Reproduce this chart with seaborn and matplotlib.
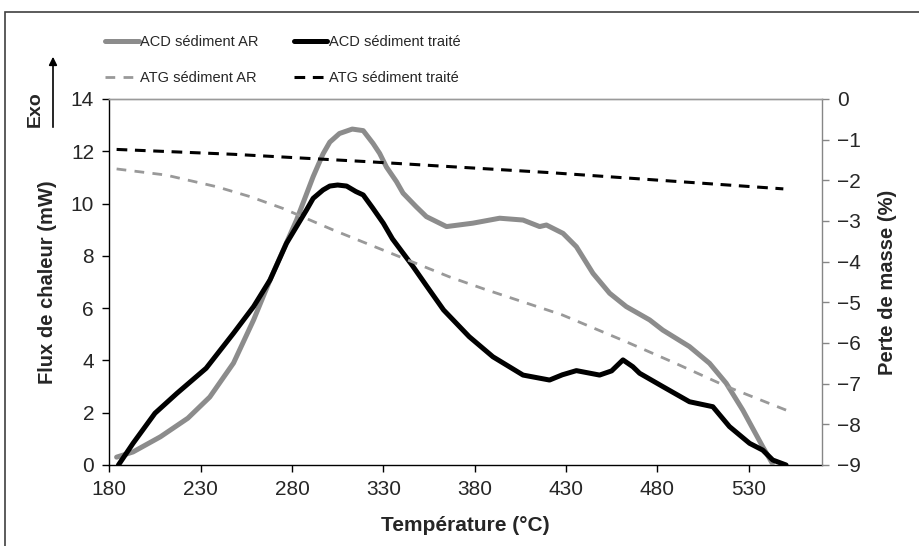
import numpy as np
import pandas as pd
import matplotlib
matplotlib.use("Agg")
import matplotlib.pyplot as plt
import seaborn as sns
from matplotlib.patches import Rectangle, FancyArrowPatch

# ACD (heat flux, left axis, mW)
acd_ar_t = [184, 193, 208, 223, 235, 248, 259, 268, 282.5, 291.6, 297, 300.7, 306, 313, 319,
            324.4, 328, 331.7, 337.2, 340.8, 348, 353.6, 364.6, 379, 393.7, 406.5, 415.6,
            419.3, 428.4, 435.7, 444.8, 453.9, 463, 475.8, 483, 497.6, 508.6, 517.7, 526.8,
            537.7, 543]
acd_ar_v = [0.3, 0.5, 1.08, 1.79, 2.6, 3.9, 5.55, 7.08, 9.37, 11.03, 11.9, 12.35, 12.68, 12.85,
            12.79, 12.3, 11.92, 11.4, 10.84, 10.4, 9.88, 9.5, 9.12, 9.25, 9.44, 9.37, 9.12,
            9.18, 8.86, 8.35, 7.33, 6.57, 6.06, 5.55, 5.16, 4.53, 3.89, 3.13, 2.1,
            0.7, 0.06]

acd_tr_t = [185, 193, 205, 217, 233, 248, 259, 268, 277, 288, 291.6, 297, 300.7, 305, 309.9,
            315, 319, 324, 330, 335, 346, 354, 363, 377, 390, 406.5, 421, 428, 435.7, 448.4,
            455, 461.2, 466.6, 470.3, 483, 497.6, 510.4, 519.5, 530.5, 537.7, 543.2, 550.5]
acd_tr_v = [0, 0.83, 1.98, 2.74, 3.7, 5.04, 6.06, 7.08, 8.48, 9.76, 10.2, 10.52, 10.67, 10.71,
            10.67, 10.46, 10.33, 9.85, 9.25, 8.65, 7.62, 6.82, 5.93, 4.91, 4.14, 3.44, 3.25,
            3.45, 3.61, 3.44, 3.6, 4.02, 3.76, 3.51, 3.0, 2.42, 2.23, 1.47, 0.83, 0.57,
            0.19, 0.0]

# ATG (mass loss, right axis, %)
atg_ar_t = [184, 211, 239, 257, 275, 302.5, 339, 366, 385, 428, 463, 490, 518, 550.5]
atg_ar_v = [-1.72, -1.87, -2.16, -2.40, -2.69, -3.22, -3.88, -4.37, -4.67, -5.31, -5.97,
            -6.50, -7.07, -7.65]

atg_tr_t = [184, 248, 321, 421, 549]
atg_tr_v = [-1.24, -1.36, -1.54, -1.81, -2.21]

x_ticks = [180, 230, 280, 330, 380, 430, 480, 530]
left_ticks = [0, 2, 4, 6, 8, 10, 12, 14]
right_ticks = [0, -1, -2, -3, -4, -5, -6, -7, -8, -9]

sns.set_style("ticks")
plt.rcParams["font.family"] = ["Liberation Sans", "DejaVu Sans"]

W, H = 919, 546
fig = plt.figure(figsize=(W / 100, H / 100), dpi=100)
ax = fig.add_axes([109.3 / W, 1 - 465 / H, (821.7 - 109.3) / W, (465 - 99) / H])
ax2 = ax.twinx()

gray = "#8c8c8c"
sns.lineplot(x=acd_ar_t, y=acd_ar_v, ax=ax, color=gray, linewidth=3.6,
             label="ACD sédiment AR", legend=False, zorder=3)
sns.lineplot(x=acd_tr_t, y=acd_tr_v, ax=ax, color="black", linewidth=3.6,
             label="ACD sédiment traité", legend=False, zorder=4)
sns.lineplot(x=atg_ar_t, y=atg_ar_v, ax=ax2, color="#999999", linewidth=2.0,
             linestyle=(0, (3.5, 3)), label="ATG sédiment AR", legend=False)
sns.lineplot(x=atg_tr_t, y=atg_tr_v, ax=ax2, color="black", linewidth=2.2,
             linestyle=(0, (3.5, 2.5)), label="ATG sédiment traité", legend=False)

ax.set_xlim(180, 570)
ax.set_ylim(0, 14)
ax2.set_ylim(-9, 0)
ax.set_xticks(x_ticks)
ax.set_yticks(left_ticks)
ax2.set_yticks(right_ticks)

for a in (ax, ax2):
    for s in a.spines.values():
        s.set_linewidth(1.0)
ax.spines["left"].set_color("black")
ax.spines["bottom"].set_color("black")
ax.spines["top"].set_color("#9a9a9a")
ax2.spines["top"].set_color("#9a9a9a")
ax2.spines["right"].set_color("#868686")
ax.spines["right"].set_visible(False)
ax2.spines["left"].set_visible(False)
ax2.spines["bottom"].set_visible(False)

ax.tick_params(axis="both", direction="out", length=5, width=1, color="black",
               labelsize=15, pad=6)
ax2.tick_params(axis="y", direction="out", length=5, width=1, color="#868686",
                labelsize=15, pad=6)

ax.set_xlabel("Température (°C)", fontsize=15, fontweight="bold", labelpad=12)
ax.set_ylabel("Flux de chaleur (mW)", fontsize=14.5, fontweight="bold", labelpad=10)
ax2.set_ylabel("Perte de masse (%)", fontsize=14.5, fontweight="bold", labelpad=12)

# Exo arrow
fig.text(35 / W, 1 - 109 / H, "Exo", rotation=90, fontsize=14, fontweight="bold",
         ha="center", va="center")
fig.add_artist(FancyArrowPatch(
    (53 / W, 1 - 130 / H), (53 / W, 1 - 54 / H), transform=fig.transFigure,
    arrowstyle="-|>", mutation_scale=12, color="black", lw=1.2))

# outer frame
fig.add_artist(Rectangle((5 / W, -0.05), 1.1, 1 - 12 / H + 0.05, transform=fig.transFigure,
                         fill=False, edgecolor="#404040", linewidth=1.2))

h1, l1 = ax.get_legend_handles_labels()
h2, l2 = ax2.get_legend_handles_labels()
handles = [h1[0], h2[0], h1[1], h2[1]]
labels = [l1[0], l2[0], l1[1], l2[1]]
fig.legend(handles, labels, ncol=2, loc="center left",
           bbox_to_anchor=(92 / W, 1 - 60 / H), frameon=False, fontsize=10.5,
           handlelength=2.3, handletextpad=0.1, columnspacing=2.4, labelspacing=1.55)

fig.savefig("out.png", dpi=100)
